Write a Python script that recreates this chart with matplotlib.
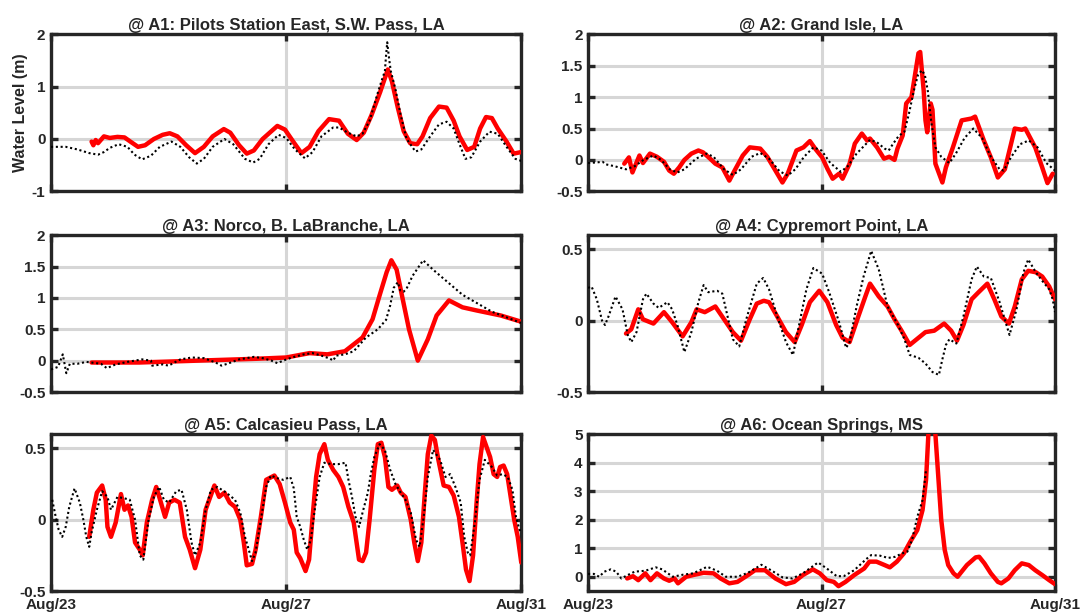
import matplotlib
matplotlib.use("Agg")
import matplotlib.pyplot as plt

plt.rcParams['font.family'] = ['Liberation Sans', 'DejaVu Sans']
plt.rcParams['font.weight'] = 'bold'

# time in days since Aug/23 00:00
xtick_days = [0, 4, 8]
xtick_names = ['Aug/23', 'Aug/27', 'Aug/31']

# ---- A1: Pilots Station East, S.W. Pass ----
a1_obs_t = [0.0, 0.25, 0.45, 0.65, 0.8, 0.9, 1.0, 1.15, 1.3, 1.42, 1.55, 1.7, 1.85, 2.05, 2.2, 2.35, 2.48,
            2.6, 2.75, 2.95, 3.1, 3.3, 3.44, 3.55, 3.7, 3.87, 4.0, 4.15, 4.32, 4.45, 4.6, 4.8, 4.9, 5.05,
            5.2, 5.3, 5.42, 5.55, 5.62, 5.68, 5.7, 5.72, 5.75, 5.78, 5.86, 5.95, 6.05, 6.2, 6.3, 6.45, 6.6,
            6.73, 6.85, 6.95, 7.05, 7.15, 7.3, 7.46, 7.6, 7.75, 7.9, 8.0]
a1_obs_h = [-0.15, -0.15, -0.2, -0.27, -0.3, -0.25, -0.17, -0.1, -0.15, -0.3, -0.39, -0.32, -0.15, -0.05,
            -0.15, -0.35, -0.47, -0.38, -0.15, 0.0, -0.1, -0.38, -0.45, -0.38, -0.1, 0.08, 0.02, -0.2, -0.37,
            -0.25, 0.05, 0.22, 0.22, 0.12, 0.05, 0.1, 0.35, 0.85, 1.1, 1.3, 1.6, 1.85, 1.55, 1.3, 0.95, 0.45,
            0.0, -0.24, -0.2, 0.05, 0.28, 0.33, 0.2, -0.1, -0.38, -0.35, -0.05, 0.14, 0.1, -0.15, -0.38, -0.42]
a1_mod_t = [0.69, 0.72, 0.76, 0.8, 0.9, 1.0, 1.13, 1.25, 1.35, 1.48, 1.6, 1.75, 1.9, 2.02, 2.15, 2.3, 2.45,
            2.6, 2.75, 2.94, 3.05, 3.2, 3.33, 3.45, 3.6, 3.85, 3.98, 4.12, 4.26, 4.4, 4.55, 4.73, 4.9, 5.05,
            5.2, 5.32, 5.45, 5.6, 5.73, 5.8, 5.9, 6.0, 6.11, 6.23, 6.32, 6.45, 6.6, 6.73, 6.85, 6.95, 7.08,
            7.2, 7.3, 7.4, 7.5, 7.6, 7.75, 7.87, 8.0]
a1_mod_h = [-0.05, -0.12, -0.02, -0.08, 0.05, 0.02, 0.04, 0.03, -0.05, -0.15, -0.12, 0.0, 0.08, 0.11, 0.05,
            -0.12, -0.27, -0.15, 0.05, 0.19, 0.12, -0.12, -0.28, -0.22, 0.0, 0.25, 0.18, -0.05, -0.27, -0.15,
            0.15, 0.38, 0.35, 0.1, -0.02, 0.12, 0.45, 0.9, 1.33, 1.1, 0.6, 0.15, -0.08, -0.1, 0.05, 0.4, 0.62,
            0.6, 0.35, 0.05, -0.21, -0.15, 0.2, 0.42, 0.4, 0.2, -0.05, -0.28, -0.25]

# ---- A2: Grand Isle ----
a2_obs_t = [0.0, 0.15, 0.25, 0.3, 0.45, 0.65, 0.8, 0.95, 1.12, 1.25, 1.4, 1.53, 1.65, 1.85, 2.03, 2.15, 2.33,
            2.48, 2.62, 2.8, 2.95, 3.1, 3.28, 3.42, 3.55, 3.7, 3.86, 4.0, 4.15, 4.33, 4.45, 4.6, 4.83, 4.95,
            5.08, 5.15, 5.22, 5.32, 5.42, 5.5, 5.58, 5.65, 5.72, 5.77, 5.82, 5.88, 5.95, 6.05, 6.19, 6.3,
            6.45, 6.6, 6.75, 6.9, 7.05, 7.12, 7.25, 7.4, 7.55, 7.7, 7.85, 8.0]
a2_obs_h = [-0.05, -0.04, -0.03, -0.07, -0.1, -0.15, -0.1, 0.0, 0.07, 0.0, -0.15, -0.2, -0.15, 0.02, 0.1,
            0.05, -0.15, -0.24, -0.15, 0.05, 0.11, 0.02, -0.18, -0.25, -0.15, 0.05, 0.2, 0.15, -0.05, -0.19,
            -0.1, 0.1, 0.32, 0.28, 0.18, 0.15, 0.25, 0.38, 0.45, 0.75, 1.1, 1.35, 1.43, 1.35, 1.1, 0.6, 0.2,
            0.05, -0.05, 0.1, 0.35, 0.5, 0.35, 0.05, -0.15, -0.17, 0.05, 0.25, 0.31, 0.2, -0.05, -0.17]
a2_mod_t = [0.62, 0.7, 0.76, 0.88, 0.94, 1.06, 1.18, 1.3, 1.39, 1.47, 1.56, 1.65, 1.77, 1.89, 1.97, 2.09,
            2.18, 2.3, 2.42, 2.51, 2.65, 2.77, 2.95, 3.07, 3.21, 3.33, 3.42, 3.57, 3.69, 3.8, 3.89, 4.01,
            4.1, 4.19, 4.3, 4.36, 4.48, 4.57, 4.69, 4.78, 4.83, 4.95, 5.07, 5.16, 5.25, 5.3, 5.39, 5.45,
            5.54, 5.66, 5.69, 5.75, 5.78, 5.81, 5.87, 5.9, 5.95, 6.07, 6.13, 6.25, 6.4, 6.57, 6.63, 6.78,
            6.9, 7.02, 7.14, 7.31, 7.43, 7.49, 7.66, 7.78, 7.87, 7.96]
a2_mod_h = [-0.06, 0.04, -0.2, 0.07, -0.05, 0.1, 0.05, -0.03, -0.17, -0.22, -0.12, 0.0, 0.1, 0.15, 0.12,
            0.02, -0.06, -0.12, -0.33, -0.17, 0.07, 0.2, 0.18, 0.05, -0.17, -0.36, -0.22, 0.15, 0.2, 0.3,
            0.18, 0.04, -0.14, -0.3, -0.22, -0.3, -0.06, 0.26, 0.42, 0.31, 0.34, 0.2, 0.02, 0.05, 0.0, 0.18,
            0.39, 0.9, 1.0, 1.7, 1.72, 1.1, 0.63, 0.44, 0.9, 0.8, -0.06, -0.36, -0.12, 0.2, 0.63, 0.66, 0.69,
            0.31, 0.04, -0.28, -0.15, 0.5, 0.48, 0.5, 0.2, -0.12, -0.37, -0.22]

# ---- A3: Norco, B. LaBranche ----
a3_obs_t = [0.0, 0.12, 0.2, 0.26, 0.32, 0.45, 0.6, 0.85, 0.95, 1.1, 1.3, 1.55, 1.7, 1.72, 1.9, 2.0, 2.2, 2.4,
            2.6, 2.8, 2.9, 3.0, 3.2, 3.45, 3.6, 3.75, 3.85, 3.95, 4.1, 4.3, 4.45, 4.6, 4.75, 4.8, 4.85, 5.0,
            5.15, 5.36, 5.56, 5.7, 5.77, 5.83, 5.9, 5.94, 6.0, 6.05, 6.15, 6.33, 6.5, 7.0, 7.5, 8.0]
a3_obs_h = [-0.14, -0.1, 0.1, -0.2, -0.05, -0.05, -0.02, -0.05, -0.12, -0.06, -0.02, 0.02, 0.0, -0.08, -0.06,
            -0.08, 0.02, 0.05, 0.04, -0.03, -0.08, -0.05, 0.02, 0.06, 0.04, 0.0, -0.04, 0.0, 0.05, 0.1, 0.12,
            0.08, 0.03, 0.0, 0.08, 0.1, 0.15, 0.37, 0.5, 0.65, 0.88, 1.16, 1.25, 1.12, 1.1, 1.15, 1.35, 1.6,
            1.45, 1.05, 0.78, 0.6]
a3_mod_t = [0.69, 1.5, 2.5, 3.5, 4.0, 4.4, 4.7, 5.0, 5.3, 5.47, 5.59, 5.71, 5.79, 5.88, 5.97, 6.09, 6.24,
            6.41, 6.56, 6.77, 7.0, 7.24, 7.65, 8.0]
a3_mod_h = [-0.03, -0.03, 0.0, 0.03, 0.05, 0.12, 0.1, 0.15, 0.37, 0.66, 1.04, 1.41, 1.6, 1.45, 1.04, 0.5,
            0.0, 0.34, 0.72, 0.96, 0.85, 0.8, 0.72, 0.62]

# ---- A4: Cypremort Point ----
a4_obs_t = [0.0, 0.06, 0.15, 0.24, 0.29, 0.35, 0.47, 0.59, 0.68, 0.74, 0.83, 0.94, 1.0, 1.12, 1.21, 1.36,
            1.44, 1.53, 1.65, 1.77, 1.89, 1.98, 2.06, 2.21, 2.3, 2.39, 2.48, 2.59, 2.71, 2.89, 3.0, 3.1,
            3.24, 3.39, 3.51, 3.63, 3.74, 3.86, 4.01, 4.13, 4.3, 4.42, 4.48, 4.6, 4.72, 4.85, 4.98, 5.13,
            5.31, 5.42, 5.51, 5.66, 5.78, 5.9, 6.01, 6.07, 6.13, 6.19, 6.31, 6.43, 6.57, 6.66, 6.78, 6.9,
            7.05, 7.16, 7.22, 7.34, 7.46, 7.54, 7.67, 7.78, 7.9, 7.96, 8.0]
a4_obs_h = [0.23, 0.24, 0.15, 0.0, -0.03, 0.03, 0.17, 0.08, -0.1, -0.15, -0.08, 0.15, 0.19, 0.12, 0.09, 0.13,
            0.08, -0.03, -0.22, -0.08, 0.13, 0.25, 0.2, 0.21, 0.19, 0.03, -0.13, -0.18, 0.01, 0.26, 0.3,
            0.22, 0.03, -0.15, -0.24, 0.0, 0.22, 0.37, 0.33, 0.2, -0.01, -0.19, -0.15, 0.1, 0.31, 0.49, 0.36,
            0.1, -0.03, -0.13, -0.24, -0.26, -0.3, -0.36, -0.38, -0.27, -0.17, -0.13, -0.16, 0.03, 0.29, 0.38,
            0.31, 0.3, 0.13, -0.02, -0.1, 0.08, 0.34, 0.43, 0.34, 0.28, 0.22, 0.15, 0.06]
a4_mod_t = [0.65, 0.74, 0.86, 0.94, 1.12, 1.3, 1.44, 1.62, 1.77, 1.86, 2.0, 2.18, 2.33, 2.48, 2.62, 2.77,
            2.89, 3.01, 3.1, 3.24, 3.39, 3.54, 3.66, 3.8, 3.96, 4.1, 4.25, 4.36, 4.48, 4.63, 4.75, 4.83,
            4.98, 5.13, 5.25, 5.37, 5.51, 5.63, 5.78, 5.93, 6.1, 6.22, 6.32, 6.43, 6.57, 6.69, 6.84, 6.96,
            7.08, 7.21, 7.31, 7.43, 7.54, 7.67, 7.78, 7.9, 8.0]
a4_mod_h = [-0.09, -0.06, 0.08, 0.01, -0.02, 0.06, -0.01, -0.11, -0.01, 0.08, 0.06, 0.1, 0.01, -0.08, -0.14,
            0.01, 0.12, 0.14, 0.13, 0.03, -0.08, -0.15, -0.03, 0.13, 0.21, 0.13, -0.03, -0.12, -0.15, 0.03,
            0.17, 0.26, 0.17, 0.1, 0.01, -0.07, -0.17, -0.13, -0.08, -0.07, -0.02, -0.07, -0.14, -0.03, 0.15,
            0.2, 0.26, 0.15, 0.03, -0.02, 0.1, 0.29, 0.35, 0.34, 0.31, 0.24, 0.15]

# ---- A5: Calcasieu Pass ----
a5_obs_t = [0.02, 0.08, 0.13, 0.19, 0.25, 0.31, 0.4, 0.49, 0.55, 0.6, 0.65, 0.69, 0.78, 0.87, 0.96, 1.02,
            1.13, 1.25, 1.34, 1.43, 1.51, 1.57, 1.66, 1.75, 1.84, 1.92, 2.01, 2.13, 2.22, 2.31, 2.39, 2.45,
            2.54, 2.63, 2.72, 2.83, 2.98, 3.13, 3.22, 3.3, 3.42, 3.48, 3.57, 3.66, 3.74, 3.86, 3.95, 4.07,
            4.13, 4.18, 4.24, 4.3, 4.36, 4.42, 4.48, 4.57, 4.65, 4.77, 4.89, 5.01, 5.06, 5.12, 5.18, 5.24,
            5.3, 5.39, 5.44, 5.5, 5.59, 5.68, 5.77, 5.86, 5.95, 6.03, 6.12, 6.21, 6.27, 6.34, 6.41, 6.5,
            6.62, 6.71, 6.79, 6.88, 6.97, 7.03, 7.09, 7.13, 7.21, 7.29, 7.38, 7.5, 7.59, 7.68, 7.77, 7.85,
            7.91, 7.97, 8.0]
a5_obs_h = [0.14, 0.02, -0.07, -0.12, -0.05, 0.09, 0.22, 0.12, 0.0, -0.12, -0.19, -0.09, 0.07, 0.2, 0.16,
            0.07, 0.16, 0.15, 0.14, 0.0, -0.25, -0.28, 0.0, 0.16, 0.23, 0.14, 0.12, 0.2, 0.21, 0.07, -0.16,
            -0.25, -0.16, 0.07, 0.21, 0.23, 0.19, 0.14, 0.05, -0.12, -0.29, -0.23, 0.0, 0.23, 0.31, 0.29, 0.28,
            0.3, 0.22, 0.02, -0.05, -0.14, -0.21, -0.14, 0.05, 0.3, 0.4, 0.39, 0.39, 0.4, 0.28, 0.16, 0.02,
            -0.05, 0.05, 0.19, 0.32, 0.44, 0.53, 0.49, 0.35, 0.25, 0.19, 0.14, 0.05, -0.14, -0.19, 0.02, 0.3,
            0.49, 0.42, 0.3, 0.32, 0.23, 0.12, -0.12, -0.23, -0.25, -0.02, 0.28, 0.42, 0.37, 0.31, 0.32, 0.3,
            0.21, 0.02, -0.07, -0.09]
a5_mod_t = [0.65, 0.72, 0.78, 0.87, 0.93, 0.96, 1.02, 1.1, 1.19, 1.25, 1.31, 1.37, 1.43, 1.51, 1.56, 1.63,
            1.72, 1.79, 1.87, 1.94, 2.01, 2.1, 2.19, 2.28, 2.36, 2.45, 2.54, 2.63, 2.78, 2.86, 2.95, 3.04,
            3.13, 3.22, 3.28, 3.33, 3.42, 3.48, 3.57, 3.66, 3.8, 3.89, 3.98, 4.07, 4.13, 4.18, 4.24, 4.33,
            4.39, 4.45, 4.51, 4.57, 4.65, 4.71, 4.8, 4.89, 4.97, 5.06, 5.15, 5.24, 5.3, 5.36, 5.42, 5.5,
            5.56, 5.62, 5.68, 5.74, 5.8, 5.89, 5.95, 6.03, 6.12, 6.18, 6.24, 6.3, 6.36, 6.41, 6.47, 6.53,
            6.59, 6.68, 6.77, 6.85, 6.94, 7.0, 7.06, 7.12, 7.18, 7.24, 7.29, 7.35, 7.41, 7.47, 7.53, 7.59,
            7.64, 7.7, 7.76, 7.82, 7.88, 7.94, 8.0]
a5_mod_h = [-0.12, 0.07, 0.19, 0.24, 0.14, -0.05, -0.12, -0.02, 0.18, 0.07, 0.1, 0.02, -0.16, -0.21, -0.25,
            -0.02, 0.14, 0.23, 0.12, 0.02, 0.12, 0.14, 0.12, -0.12, -0.21, -0.34, -0.21, 0.07, 0.24, 0.16,
            0.19, 0.12, 0.09, 0.0, -0.16, -0.32, -0.31, -0.21, 0.02, 0.28, 0.31, 0.25, 0.12, -0.02, -0.07,
            -0.23, -0.27, -0.36, -0.28, 0.02, 0.3, 0.46, 0.53, 0.42, 0.35, 0.3, 0.23, 0.09, -0.02, -0.28,
            -0.29, -0.23, 0.0, 0.35, 0.53, 0.54, 0.44, 0.23, 0.21, 0.24, 0.19, 0.16, 0.0, -0.16, -0.29, -0.16,
            0.19, 0.46, 0.59, 0.56, 0.42, 0.24, 0.23, 0.17, 0.02, -0.16, -0.35, -0.43, -0.25, 0.12, 0.39,
            0.58, 0.51, 0.44, 0.32, 0.3, 0.37, 0.38, 0.32, 0.16, 0.0, -0.12, -0.3]

# ---- A6: Ocean Springs ----
a6_obs_t = [0.0, 0.1, 0.19, 0.28, 0.39, 0.48, 0.57, 0.66, 0.8, 0.98, 1.16, 1.27, 1.45, 1.62, 1.8, 2.04,
            2.21, 2.36, 2.56, 2.74, 2.97, 3.15, 3.33, 3.5, 3.68, 3.94, 4.09, 4.26, 4.38, 4.56, 4.76, 4.85,
            5.0, 5.14, 5.26, 5.38, 5.47, 5.55, 5.64, 5.73, 5.79]
a6_obs_h = [0.1, 0.1, 0.0, 0.18, 0.26, 0.18, -0.06, 0.04, 0.18, 0.21, 0.33, 0.26, 0.0, 0.07, 0.12, 0.35,
            0.21, 0.0, 0.0, 0.14, 0.42, 0.21, -0.02, -0.06, 0.12, 0.5, 0.29, 0.02, 0.02, 0.23, 0.61, 0.76,
            0.74, 0.66, 0.7, 0.82, 0.88, 1.29, 2.1, 2.69, 3.75]
a6_mod_t = [0.67, 0.77, 0.86, 0.98, 1.07, 1.18, 1.3, 1.39, 1.48, 1.54, 1.68, 1.8, 1.98, 2.15, 2.27, 2.42,
            2.56, 2.74, 2.86, 3.03, 3.21, 3.39, 3.53, 3.68, 3.85, 3.97, 4.09, 4.21, 4.29, 4.41, 4.56, 4.73,
            4.82, 4.94, 5.08, 5.17, 5.29, 5.41, 5.52, 5.64, 5.73, 5.79, 5.83, 5.89, 5.95, 6.0, 6.05, 6.11,
            6.17, 6.26, 6.33, 6.4, 6.49, 6.64, 6.7, 6.79, 6.9, 7.02, 7.08, 7.2, 7.31, 7.43, 7.55, 7.66,
            7.78, 7.9, 8.0]
a6_mod_h = [-0.06, 0.02, -0.12, 0.12, -0.12, 0.12, -0.06, -0.14, -0.06, -0.23, 0.0, 0.06, 0.14, 0.12, -0.06,
            -0.23, -0.18, 0.06, 0.23, 0.23, -0.06, -0.26, -0.18, 0.06, 0.26, 0.12, -0.12, -0.18, -0.33, -0.18,
            0.06, 0.29, 0.53, 0.53, 0.41, 0.33, 0.53, 0.82, 1.23, 1.64, 2.34, 3.4, 5.0, 5.8, 5.0, 3.5, 2.0,
            0.94, 0.41, 0.12, 0.0, 0.18, 0.41, 0.68, 0.7, 0.47, 0.12, -0.18, -0.23, -0.06, 0.23, 0.47, 0.41,
            0.23, 0.06, -0.12, -0.26]

titles = ['@ A1: Pilots Station East, S.W. Pass, LA', '@ A2: Grand Isle, LA',
          '@ A3: Norco, B. LaBranche, LA', '@ A4: Cypremort Point, LA',
          '@ A5: Calcasieu Pass, LA', '@ A6: Ocean Springs, MS']
obs = [(a1_obs_t, a1_obs_h), (a2_obs_t, a2_obs_h), (a3_obs_t, a3_obs_h),
       (a4_obs_t, a4_obs_h), (a5_obs_t, a5_obs_h), (a6_obs_t, a6_obs_h)]
mod = [(a1_mod_t, a1_mod_h), (a2_mod_t, a2_mod_h), (a3_mod_t, a3_mod_h),
       (a4_mod_t, a4_mod_h), (a5_mod_t, a5_mod_h), (a6_mod_t, a6_mod_h)]
ylims = [(-1, 2), (-0.5, 2), (-0.5, 2), (-0.5, 0.6), (-0.5, 0.6), (-0.5, 5)]
yticks = [[-1, 0, 1, 2], [-0.5, 0, 0.5, 1, 1.5, 2], [-0.5, 0, 0.5, 1, 1.5, 2],
          [-0.5, 0, 0.5], [-0.5, 0, 0.5], [0, 1, 2, 3, 4, 5]]

fig = plt.figure(figsize=(10.81, 6.15), dpi=100)
lefts = [0.0472, 0.544]
widths = [0.435, 0.432]
bottoms = [0.689, 0.3626, 0.039]
dark = '#262626'

for i in range(6):
    r, c = divmod(i, 2)
    ax = fig.add_axes([lefts[c], bottoms[r], widths[c], 0.255])
    ax.plot(*mod[i], color='red', lw=3.2, solid_joinstyle='round', solid_capstyle='round', zorder=3)
    ax.plot(*obs[i], color='black', lw=1.5, linestyle=(0, (1.0, 1.3)),
            dash_capstyle='butt', zorder=4)
    ax.set_xlim(0, 8)
    ax.set_ylim(*ylims[i])
    ax.set_yticks(yticks[i])
    ax.set_yticklabels(['%g' % v for v in yticks[i]])
    ax.set_xticks(xtick_days)
    if r == 2:
        ax.set_xticklabels(xtick_names)
    else:
        ax.set_xticklabels([])
    ax.grid(True, color='#d6d6d6', lw=2.2, zorder=0)
    ax.set_axisbelow(True)
    for s in ax.spines.values():
        s.set_linewidth(2.4)
        s.set_color(dark)
    ax.tick_params(direction='in', length=5, width=2.4, color=dark, top=True, right=True,
                   labelsize=11, labelcolor=dark)
    ax.tick_params(axis='y', pad=4)
    ax.tick_params(axis='x', pad=5)
    ax.set_title(titles[i], fontsize=12, fontweight='bold', color=dark, pad=3)
    if i == 0:
        ax.set_ylabel('Water Level (m)', fontsize=11.5, fontweight='bold', color=dark, labelpad=3)

fig.savefig('out.png', dpi=100)
